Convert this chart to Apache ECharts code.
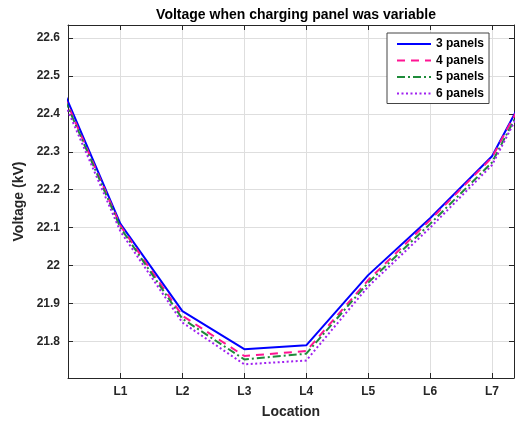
<!DOCTYPE html>
<html>
<head>
<meta charset="utf-8">
<script src="https://cdn.jsdelivr.net/npm/echarts@6/dist/echarts.min.js"></script>
<style>
  html, body { margin: 0; padding: 0; background: #fff; }
  #chart { width: 516px; height: 424px; }
</style>
</head>
<body>
<div id="chart"></div>
<script>
// Measurement points along the feeder (0 = source side, 8 = far end)
const positions = [0, 1, 2, 3, 4, 5, 6, 7, 8];
const locationTicks = [1, 2, 3, 4, 5, 6, 7];
const locationLabels = ['L1', 'L2', 'L3', 'L4', 'L5', 'L6', 'L7'];
const voltageTicks = [21.8, 21.9, 22.0, 22.1, 22.2, 22.3, 22.4, 22.5, 22.6];

// Voltage (kV) at each position for each charging-panel count
const panels3 = [22.49, 22.11, 21.88, 21.78, 21.79, 21.975, 22.125, 22.288, 22.595];
const panels4 = [22.48, 22.105, 21.868, 21.762, 21.775, 21.962, 22.12, 22.285, 22.59];
const panels5 = [22.475, 22.10, 21.86, 21.753, 21.768, 21.955, 22.11, 22.272, 22.585];
const panels6 = [22.465, 22.09, 21.85, 21.74, 21.75, 21.945, 22.10, 22.265, 22.58];

const seriesNames = ['3 panels', '4 panels', '5 panels', '6 panels'];
const seriesValues = [panels3, panels4, panels5, panels6];

const FONT = '"Liberation Sans", Arial, Helvetica, sans-serif';
const AXIS_COLOR = '#262626';
const GRID_COLOR = '#dedede';

const styles = [
  { color: '#0000ff', type: 'solid' },
  { color: '#ff1493', type: [8, 6] },
  { color: '#1f8b3a', type: [8, 3, 2, 3] },
  { color: '#a020f0', type: [2, 2.5] }
];

const xRange = { min: 0.153, max: 7.355 };
const yRange = { min: 21.704, max: 22.634 };

const chart = echarts.init(document.getElementById('chart'), null, { renderer: 'canvas' });

const axisBase = {
  type: 'value',
  axisLine: { show: true, onZero: false, lineStyle: { color: AXIS_COLOR, width: 1 } },
  axisTick: { show: true, inside: true, length: 5, lineStyle: { color: AXIS_COLOR } }
};

chart.setOption({
  animation: false,
  backgroundColor: '#fff',
  title: {
    text: 'Voltage when charging panel was variable',
    left: 291,
    top: 3,
    textAlign: 'center',
    textStyle: { fontFamily: FONT, fontSize: 14, fontWeight: 'bold', color: '#000' }
  },
  legend: {
    orient: 'vertical',
    left: 387,
    top: 33,
    padding: [5, 5, 4, 9],
    itemWidth: 34,
    itemHeight: 12,
    itemGap: 4.5,
    backgroundColor: '#fff',
    borderColor: '#444',
    borderWidth: 1,
    borderRadius: 0,
    itemStyle: { opacity: 0 },
    data: seriesNames,
    textStyle: { fontFamily: FONT, fontSize: 12, fontWeight: 'bold', color: '#000' }
  },
  grid: { left: 68, right: 2, top: 25, bottom: 45, containLabel: false },
  xAxis: [
    Object.assign({}, axisBase, {
      position: 'bottom',
      min: xRange.min, max: xRange.max,
      axisTick: Object.assign({}, axisBase.axisTick, { customValues: locationTicks }),
      axisLabel: {
        customValues: locationTicks,
        formatter: v => locationLabels[locationTicks.indexOf(Math.round(v))] || '',
        fontFamily: FONT, fontSize: 12, fontWeight: 'bold', color: AXIS_COLOR, margin: 8
      },
      splitLine: { show: true, lineStyle: { color: GRID_COLOR, width: 1 } },
      name: 'Location',
      nameLocation: 'middle',
      nameGap: 27,
      nameTextStyle: { fontFamily: FONT, fontSize: 14, fontWeight: 'bold', color: AXIS_COLOR }
    }),
    Object.assign({}, axisBase, {
      position: 'top',
      min: xRange.min, max: xRange.max,
      axisTick: Object.assign({}, axisBase.axisTick, { customValues: locationTicks }),
      axisLabel: { show: false },
      splitLine: { show: false }
    })
  ],
  yAxis: [
    Object.assign({}, axisBase, {
      position: 'left',
      min: yRange.min, max: yRange.max,
      axisTick: Object.assign({}, axisBase.axisTick, { customValues: voltageTicks }),
      axisLabel: {
        customValues: voltageTicks,
        formatter: v => String(Number(v.toFixed(1))),
        fontFamily: FONT, fontSize: 12, fontWeight: 'bold', color: AXIS_COLOR, margin: 8
      },
      splitLine: { show: true, lineStyle: { color: GRID_COLOR, width: 1 } },
      name: 'Voltage (kV)',
      nameLocation: 'middle',
      nameGap: 34,
      nameTextStyle: { fontFamily: FONT, fontSize: 14, fontWeight: 'bold', color: AXIS_COLOR }
    }),
    Object.assign({}, axisBase, {
      position: 'right',
      min: yRange.min, max: yRange.max,
      axisTick: Object.assign({}, axisBase.axisTick, { customValues: voltageTicks }),
      axisLabel: { show: false },
      splitLine: { show: false }
    })
  ],
  series: seriesNames.map((name, i) => ({
    name,
    type: 'line',
    xAxisIndex: 0,
    yAxisIndex: 0,
    clip: true,
    symbol: 'none',
    showSymbol: false,
    smooth: false,
    z: 2 + i,
    color: styles[i].color,
    lineStyle: { color: styles[i].color, width: 2, type: styles[i].type },
    data: positions.map((x, k) => [x, seriesValues[i][k]])
  }))
});
</script>
</body>
</html>
